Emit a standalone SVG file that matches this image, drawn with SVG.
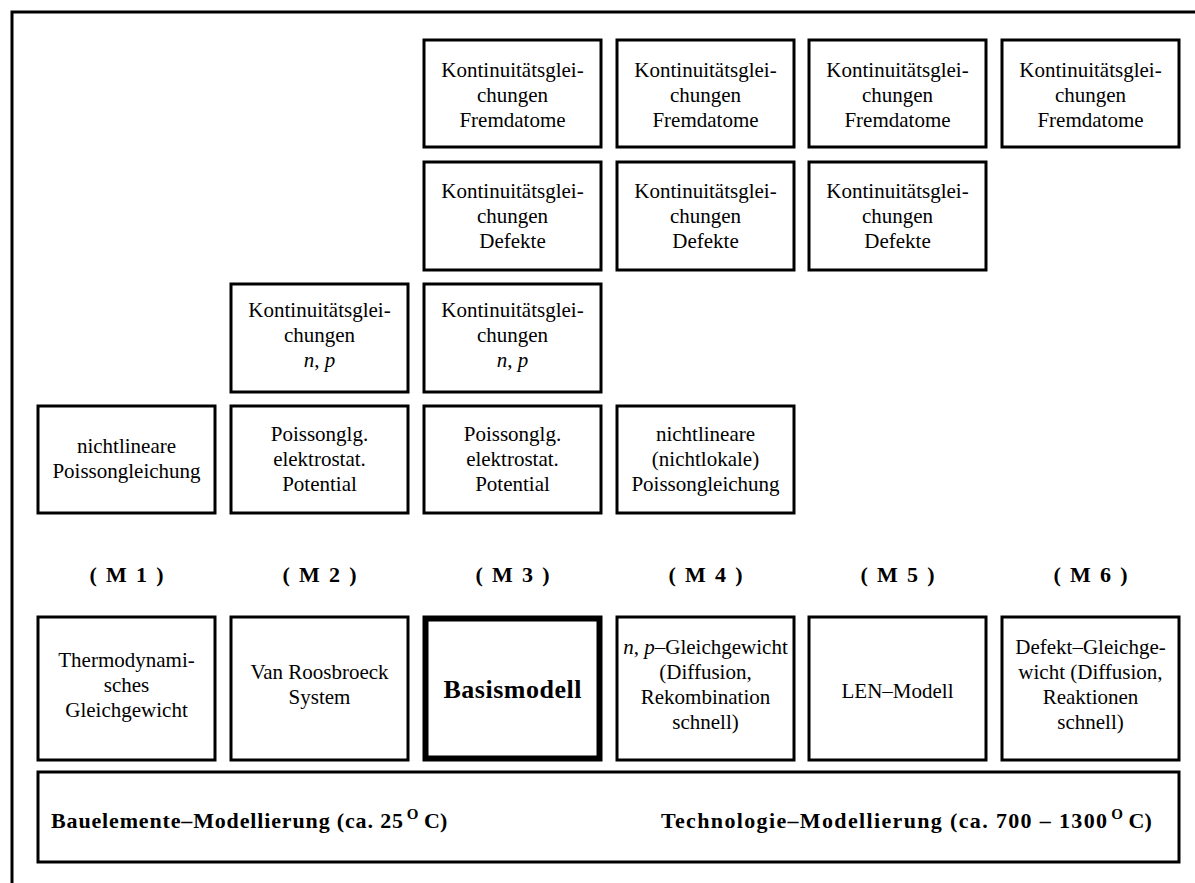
<svg xmlns="http://www.w3.org/2000/svg" width="1195" height="883" viewBox="0 0 1195 883">
<rect x="0" y="0" width="1195" height="883" fill="#fff"/>
<path d="M12,883 V12 H1195" fill="none" stroke="#000" stroke-width="3"/>
<g id="connectors"/>
<g id="fremd3"><rect fill="#fff" stroke="#000" stroke-width="3" x="424" y="40" width="177" height="107"/><text font-family="Liberation Serif" font-size="21" text-anchor="middle" x="512.5" y="77">Kontinuitätsglei-</text><text font-family="Liberation Serif" font-size="21" text-anchor="middle" x="512.5" y="102">chungen</text><text font-family="Liberation Serif" font-size="21" text-anchor="middle" x="512.5" y="127">Fremdatome</text></g>
<g id="fremd4"><rect fill="#fff" stroke="#000" stroke-width="3" x="617" y="40" width="177" height="107"/><text font-family="Liberation Serif" font-size="21" text-anchor="middle" x="705.5" y="77">Kontinuitätsglei-</text><text font-family="Liberation Serif" font-size="21" text-anchor="middle" x="705.5" y="102">chungen</text><text font-family="Liberation Serif" font-size="21" text-anchor="middle" x="705.5" y="127">Fremdatome</text></g>
<g id="fremd5"><rect fill="#fff" stroke="#000" stroke-width="3" x="809" y="40" width="177" height="107"/><text font-family="Liberation Serif" font-size="21" text-anchor="middle" x="897.5" y="77">Kontinuitätsglei-</text><text font-family="Liberation Serif" font-size="21" text-anchor="middle" x="897.5" y="102">chungen</text><text font-family="Liberation Serif" font-size="21" text-anchor="middle" x="897.5" y="127">Fremdatome</text></g>
<g id="fremd6"><rect fill="#fff" stroke="#000" stroke-width="3" x="1002" y="40" width="177" height="107"/><text font-family="Liberation Serif" font-size="21" text-anchor="middle" x="1090.5" y="77">Kontinuitätsglei-</text><text font-family="Liberation Serif" font-size="21" text-anchor="middle" x="1090.5" y="102">chungen</text><text font-family="Liberation Serif" font-size="21" text-anchor="middle" x="1090.5" y="127">Fremdatome</text></g>
<g id="def3"><rect fill="#fff" stroke="#000" stroke-width="3" x="424" y="162" width="177" height="108"/><text font-family="Liberation Serif" font-size="21" text-anchor="middle" x="512.5" y="198">Kontinuitätsglei-</text><text font-family="Liberation Serif" font-size="21" text-anchor="middle" x="512.5" y="223">chungen</text><text font-family="Liberation Serif" font-size="21" text-anchor="middle" x="512.5" y="248">Defekte</text></g>
<g id="def4"><rect fill="#fff" stroke="#000" stroke-width="3" x="617" y="162" width="177" height="108"/><text font-family="Liberation Serif" font-size="21" text-anchor="middle" x="705.5" y="198">Kontinuitätsglei-</text><text font-family="Liberation Serif" font-size="21" text-anchor="middle" x="705.5" y="223">chungen</text><text font-family="Liberation Serif" font-size="21" text-anchor="middle" x="705.5" y="248">Defekte</text></g>
<g id="def5"><rect fill="#fff" stroke="#000" stroke-width="3" x="809" y="162" width="177" height="108"/><text font-family="Liberation Serif" font-size="21" text-anchor="middle" x="897.5" y="198">Kontinuitätsglei-</text><text font-family="Liberation Serif" font-size="21" text-anchor="middle" x="897.5" y="223">chungen</text><text font-family="Liberation Serif" font-size="21" text-anchor="middle" x="897.5" y="248">Defekte</text></g>
<g id="np2"><rect fill="#fff" stroke="#000" stroke-width="3" x="231" y="284" width="177" height="108"/><text font-family="Liberation Serif" font-size="21" text-anchor="middle" x="319.5" y="317">Kontinuitätsglei-</text><text font-family="Liberation Serif" font-size="21" text-anchor="middle" x="319.5" y="342">chungen</text><text font-family="Liberation Serif" font-size="21" text-anchor="middle" x="319.5" y="367"><tspan font-style="italic">n</tspan>, <tspan font-style="italic">p</tspan></text></g>
<g id="np3"><rect fill="#fff" stroke="#000" stroke-width="3" x="424" y="284" width="177" height="108"/><text font-family="Liberation Serif" font-size="21" text-anchor="middle" x="512.5" y="317">Kontinuitätsglei-</text><text font-family="Liberation Serif" font-size="21" text-anchor="middle" x="512.5" y="342">chungen</text><text font-family="Liberation Serif" font-size="21" text-anchor="middle" x="512.5" y="367"><tspan font-style="italic">n</tspan>, <tspan font-style="italic">p</tspan></text></g>
<g id="pois1"><rect fill="#fff" stroke="#000" stroke-width="3" x="38" y="406" width="177" height="107"/><text font-family="Liberation Serif" font-size="21" text-anchor="middle" x="126.5" y="453">nichtlineare</text><text font-family="Liberation Serif" font-size="21" text-anchor="middle" x="126.5" y="478">Poissongleichung</text></g>
<g id="pois2"><rect fill="#fff" stroke="#000" stroke-width="3" x="231" y="406" width="177" height="107"/><text font-family="Liberation Serif" font-size="21" text-anchor="middle" x="319.5" y="441">Poissonglg.</text><text font-family="Liberation Serif" font-size="21" text-anchor="middle" x="319.5" y="466">elektrostat.</text><text font-family="Liberation Serif" font-size="21" text-anchor="middle" x="319.5" y="491">Potential</text></g>
<g id="pois3"><rect fill="#fff" stroke="#000" stroke-width="3" x="424" y="406" width="177" height="107"/><text font-family="Liberation Serif" font-size="21" text-anchor="middle" x="512.5" y="441">Poissonglg.</text><text font-family="Liberation Serif" font-size="21" text-anchor="middle" x="512.5" y="466">elektrostat.</text><text font-family="Liberation Serif" font-size="21" text-anchor="middle" x="512.5" y="491">Potential</text></g>
<g id="pois4"><rect fill="#fff" stroke="#000" stroke-width="3" x="617" y="406" width="177" height="107"/><text font-family="Liberation Serif" font-size="21" text-anchor="middle" x="705.5" y="441">nichtlineare</text><text font-family="Liberation Serif" font-size="21" text-anchor="middle" x="705.5" y="466">(nichtlokale)</text><text font-family="Liberation Serif" font-size="21" text-anchor="middle" x="705.5" y="491">Poissongleichung</text></g>
<g id="labels">
<text font-family="Liberation Serif" font-size="22" font-weight="bold" text-anchor="middle" x="126.5" y="582" textLength="74">( M 1 )</text>
<text font-family="Liberation Serif" font-size="22" font-weight="bold" text-anchor="middle" x="319.5" y="582" textLength="74">( M 2 )</text>
<text font-family="Liberation Serif" font-size="22" font-weight="bold" text-anchor="middle" x="512.5" y="582" textLength="74">( M 3 )</text>
<text font-family="Liberation Serif" font-size="22" font-weight="bold" text-anchor="middle" x="705.5" y="582" textLength="74">( M 4 )</text>
<text font-family="Liberation Serif" font-size="22" font-weight="bold" text-anchor="middle" x="897.5" y="582" textLength="74">( M 5 )</text>
<text font-family="Liberation Serif" font-size="22" font-weight="bold" text-anchor="middle" x="1090.5" y="582" textLength="74">( M 6 )</text>
</g>
<g id="m1"><rect fill="#fff" stroke="#000" stroke-width="3" x="38" y="617" width="177" height="143"/><text font-family="Liberation Serif" font-size="21" text-anchor="middle" x="126.5" y="667">Thermodynami-</text><text font-family="Liberation Serif" font-size="21" text-anchor="middle" x="126.5" y="692">sches</text><text font-family="Liberation Serif" font-size="21" text-anchor="middle" x="126.5" y="717">Gleichgewicht</text></g>
<g id="m2"><rect fill="#fff" stroke="#000" stroke-width="3" x="231" y="617" width="177" height="143"/><text font-family="Liberation Serif" font-size="21" text-anchor="middle" x="319.5" y="679">Van Roosbroeck</text><text font-family="Liberation Serif" font-size="21" text-anchor="middle" x="319.5" y="704">System</text></g>
<g id="m3"><rect fill="#fff" stroke="#000" stroke-width="6" x="425.5" y="618.5" width="174" height="140"/><text font-family="Liberation Serif" font-size="26" font-weight="bold" text-anchor="middle" x="512.5" y="698" textLength="138">Basismodell</text></g>
<g id="m4"><rect fill="#fff" stroke="#000" stroke-width="3" x="617" y="617" width="177" height="143"/><text font-family="Liberation Serif" font-size="21" text-anchor="middle" x="705.5" y="654"><tspan font-style="italic">n</tspan>, <tspan font-style="italic">p</tspan>–Gleichgewicht</text><text font-family="Liberation Serif" font-size="21" text-anchor="middle" x="705.5" y="679">(Diffusion,</text><text font-family="Liberation Serif" font-size="21" text-anchor="middle" x="705.5" y="704">Rekombination</text><text font-family="Liberation Serif" font-size="21" text-anchor="middle" x="705.5" y="729">schnell)</text></g>
<g id="m5"><rect fill="#fff" stroke="#000" stroke-width="3" x="809" y="617" width="177" height="143"/><text font-family="Liberation Serif" font-size="21" text-anchor="middle" x="897.5" y="698">LEN–Modell</text></g>
<g id="m6"><rect fill="#fff" stroke="#000" stroke-width="3" x="1002" y="617" width="177" height="143"/><text font-family="Liberation Serif" font-size="21" text-anchor="middle" x="1090.5" y="654">Defekt–Gleichge-</text><text font-family="Liberation Serif" font-size="21" text-anchor="middle" x="1090.5" y="679">wicht (Diffusion,</text><text font-family="Liberation Serif" font-size="21" text-anchor="middle" x="1090.5" y="704">Reaktionen</text><text font-family="Liberation Serif" font-size="21" text-anchor="middle" x="1090.5" y="729">schnell)</text></g>
<g id="base"><rect fill="#fff" stroke="#000" stroke-width="3" x="38" y="772" width="1141" height="90"/>
<text font-family="Liberation Serif" font-size="22" font-weight="bold" x="51" y="828"><tspan textLength="352">Bauelemente–Modellierung (ca. 25</tspan><tspan dx="3" dy="-9" font-size="15">O</tspan><tspan dy="9"> C)</tspan></text>
<text font-family="Liberation Serif" font-size="22" font-weight="bold" x="661" y="828"><tspan textLength="446">Technologie–Modellierung (ca. 700 – 1300</tspan><tspan dx="3" dy="-9" font-size="15">O</tspan><tspan dy="9"> C)</tspan></text>
</g>
</svg>
